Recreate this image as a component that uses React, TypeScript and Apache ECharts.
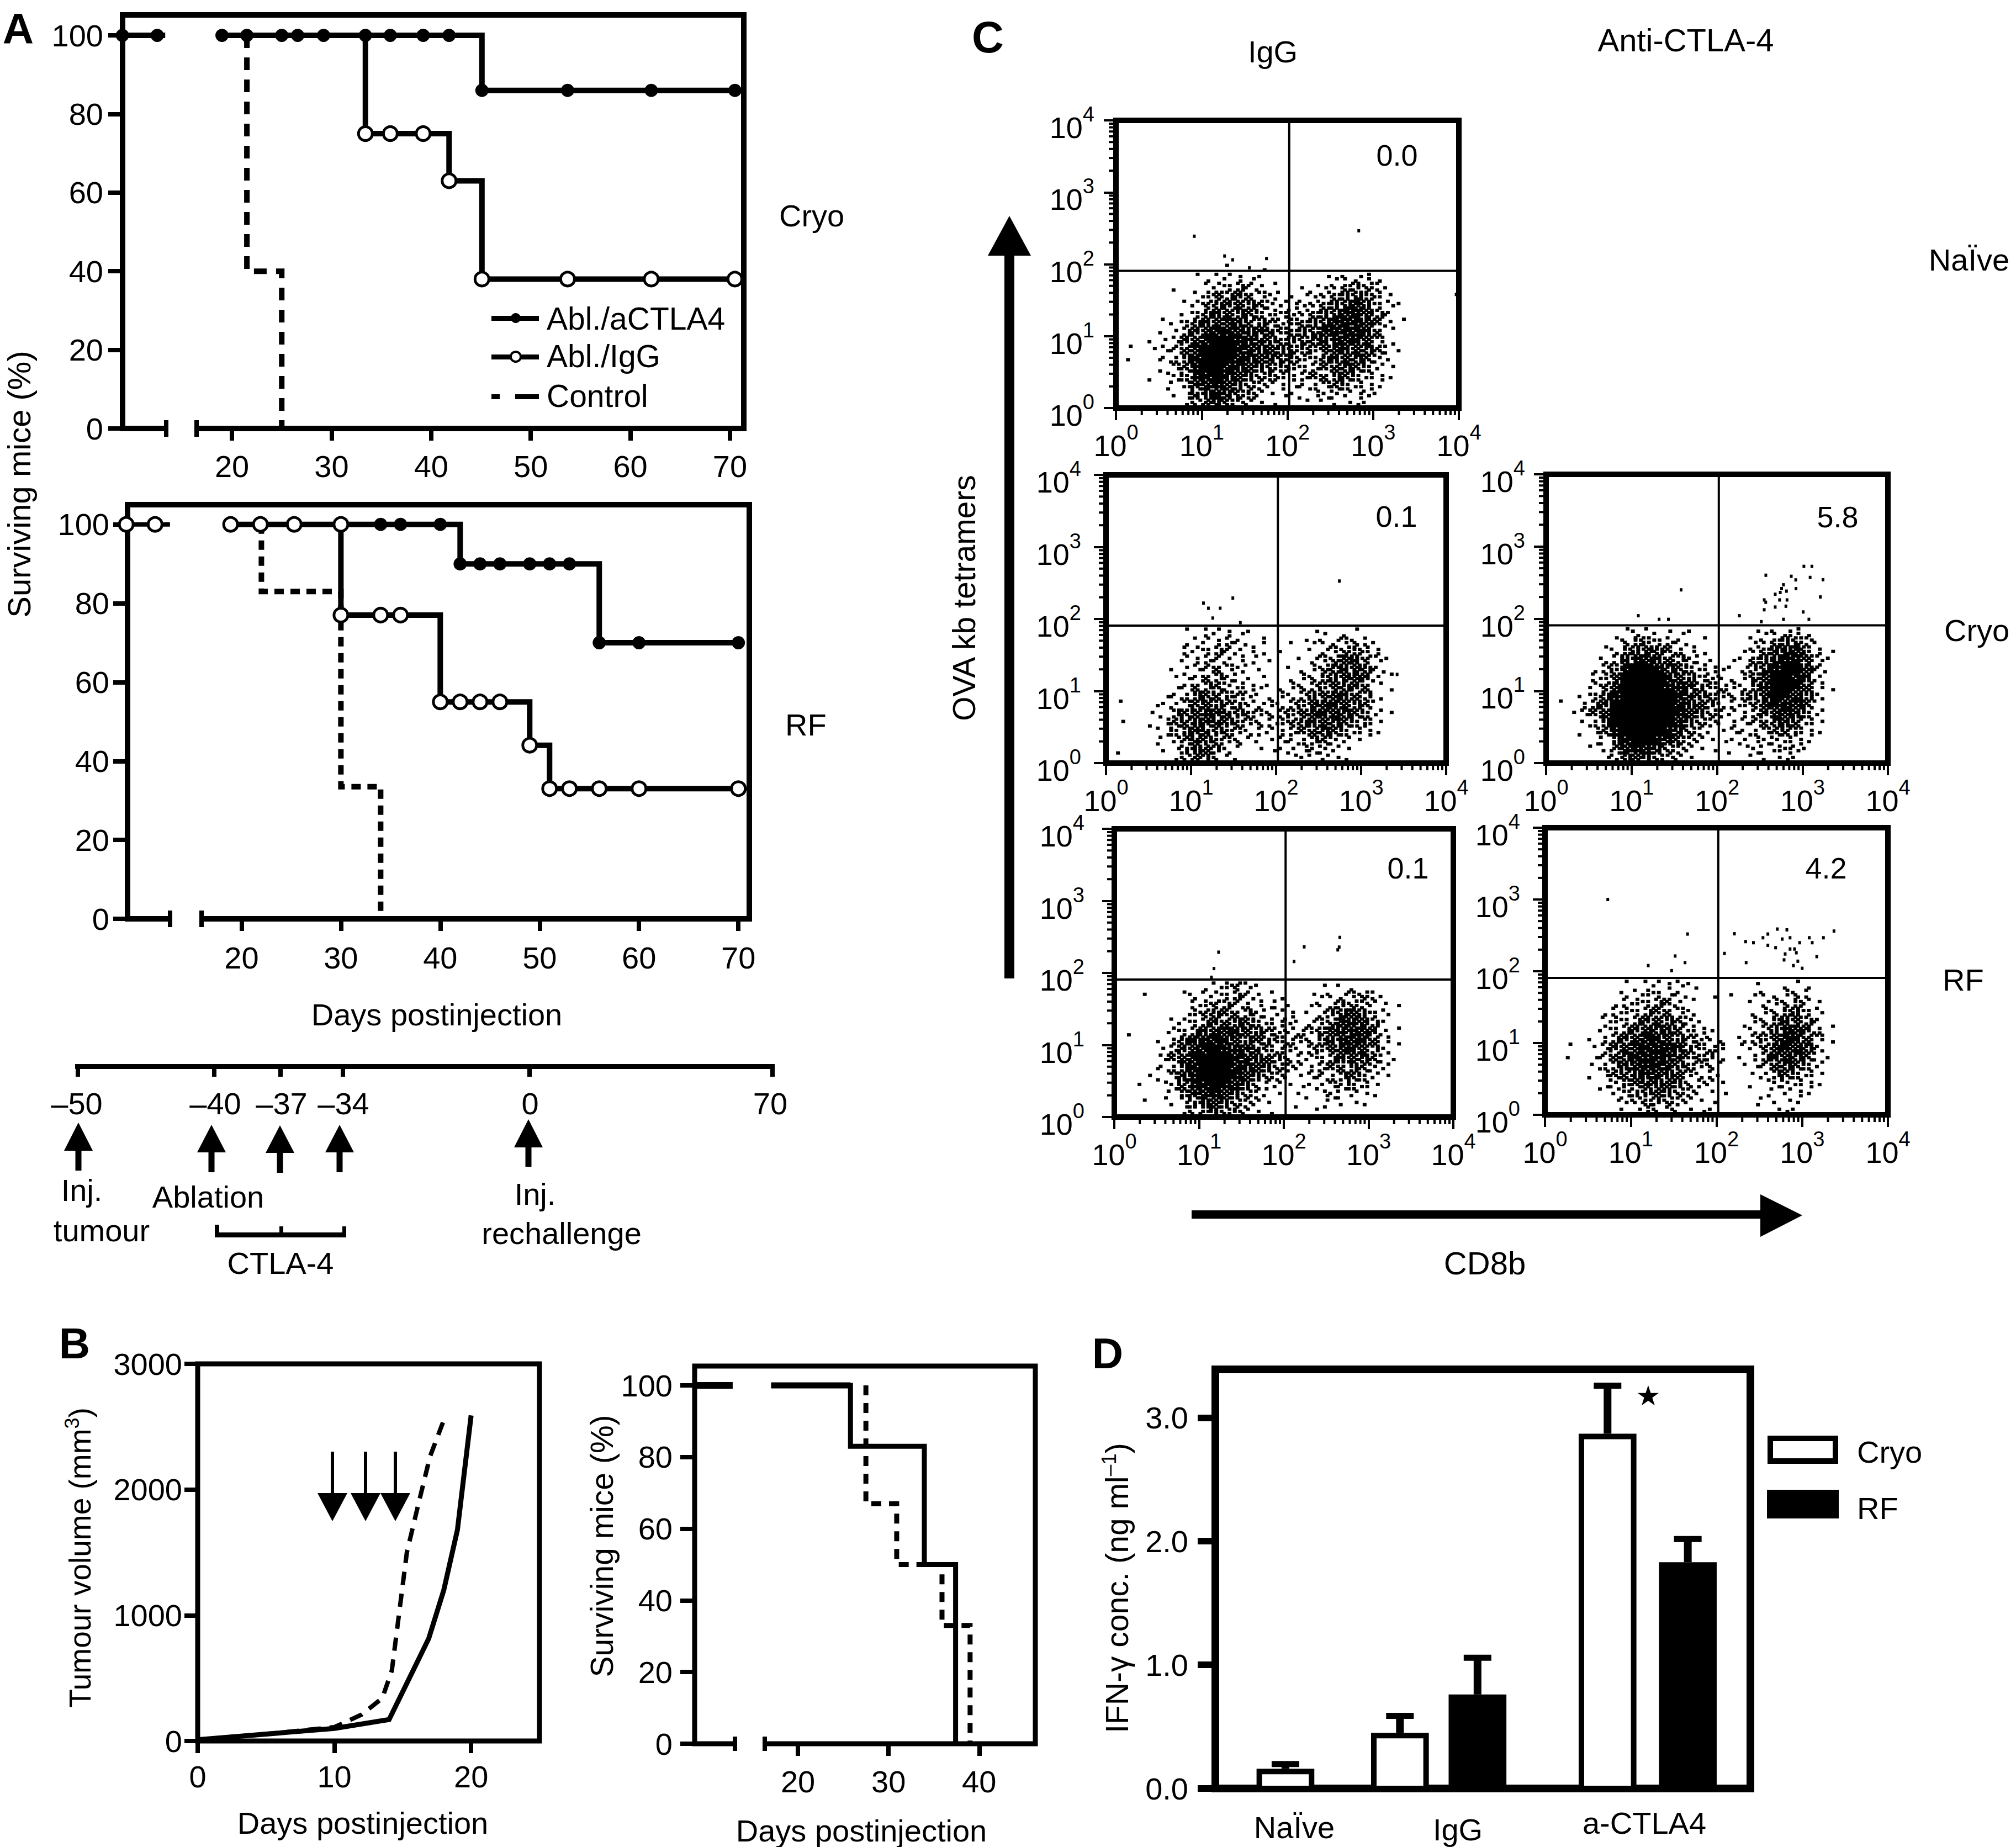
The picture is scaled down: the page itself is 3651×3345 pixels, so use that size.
import React, { useEffect, useRef } from "react";
import * as echarts from "echarts";

const FONT = '"Liberation Sans", Arial, Helvetica, sans-serif';
const W = 3651;
const H = 3345;

// ---------- Panel A, cryo ----------
const cryoTreatedEarly = [[9, 100], [13.3, 100]];
const cryoTreatedSteps = [[19, 100], [45.1, 86], [70.5, 86]];
const cryoTreatedMarks = [[9, 100], [12.5, 100], [19, 100], [21.5, 100], [25, 100], [26.6, 100], [29.2, 100], [33.4, 100], [35.9, 100], [39.2, 100], [41.8, 100], [45.1, 86], [53.7, 86], [62.1, 86], [70.5, 86]];
const cryoIgGSteps = [[33.4, 100], [33.4, 75], [41.8, 63], [45.1, 38], [70.5, 38]];
const cryoIgGMarks = [[33.4, 75], [35.9, 75], [39.2, 75], [41.8, 63], [45.1, 38], [53.7, 38], [62.1, 38], [70.5, 38]];
const cryoControlSteps = [[21.5, 100], [21.5, 40], [25, 0]];

// ---------- Panel A, RF ----------
const rfTreatedSteps = [[30, 100], [42, 90], [56, 70], [70, 70]];
const rfTreatedMarks = [[34, 100], [36, 100], [40, 100], [42, 90], [44, 90], [46, 90], [49, 90], [51, 90], [53, 90], [56, 70], [60, 70], [70, 70]];
const rfIgGEarly = [[8.4, 100], [12.8, 100]];
const rfIgGSteps = [[18.9, 100], [30, 100], [30, 77], [40, 55], [49, 44], [51, 33], [70, 33]];
const rfIgGMarks = [[8.4, 100], [11.3, 100], [18.9, 100], [21.9, 100], [25.3, 100], [30, 100], [30, 77], [34, 77], [36, 77], [40, 55], [42, 55], [44, 55], [46, 55], [49, 44], [51, 33], [53, 33], [56, 33], [60, 33], [70, 33]];
const rfControlSteps = [[22, 100], [22, 83], [30, 33.5], [34, 0]];

const survivalXTicks = [20, 30, 40, 50, 60, 70];
const survivalYTicks = [0, 20, 40, 60, 80, 100];

// ---------- Panel B ----------
const tumourSolid = [[0, 10], [5, 55], [10, 100], [14, 170], [16.9, 815], [18, 1200], [19, 1680], [20, 2590]];
const tumourDashed = [[0, 10], [5, 55], [10, 110], [12, 210], [13.5, 340], [14.2, 560], [15.3, 1500], [16.2, 1910], [17, 2265], [18.1, 2580]];
const bSurvEarly = [[8.6, 100], [12.8, 100]];
const bSurvPlateau = [[17.05, 100], [25.8, 100]];
const bSurvSolid = [[17.05, 100], [25.8, 83], [33.95, 50], [37.4, 0]];
const bSurvDashed = [[27.5, 100], [27.5, 67], [30.9, 50], [35.9, 33], [39, 0]];

// ---------- Panel D ----------
const dCategories = ["NaÏve", "IgG", "a-CTLA4"];
const dPositions = [13.1, 34.5, 49, 73.3, 88.3];
const dMeans = [0.16, 0.45, 0.76, 2.87, 1.83];
const dErrTops = [0.2, 0.59, 1.06, 3.26, 2.02];
const dIsRF = [0, 0, 1, 0, 1];

// ---------- Panel C: dot density per cell.
// Each row is 1/8 decade high, each column 1/8 decade wide; first string = highest row.
const flowNaiveIgG = [
  "0000000000100100000000000000",
  "0000000111221100000112221000",
  "0000010012343210011124442100",
  "0000000135454321112345643100",
  "0000001245565432223456753210",
  "0000001356655433334567864200",
  "0000113566765543445678864210",
  "0000114578876654455788864100",
  "0001125689987654455677763100",
  "0101235799987665544566664210",
  "0100235899987665433566653100",
  "0000134899876554333456542100",
  "0001124789765443234455432100",
  "0000113678654322123344321000",
  "0000012568654211112232221000",
  "0000001356532110011112110000",
];
const flowCryoIgG = [
  "0000000102221100000110110000",
  "0000000112232120011122332100",
  "0000000223432210100123443200",
  "0000000223322111001234664210",
  "0000001123432110011245665210",
  "0000001224432110012345665210",
  "0000001244433211123345554110",
  "0000012355544211223556654100",
  "0100112356544322234667654100",
  "0000114567655433345677654210",
  "0100124566654332345666544100",
  "0000114565543222234565432100",
  "0000112465433111223443210000",
  "0100011465421011122332100000",
  "0000001354321000012222100000",
];
const flowCryoAnti = [
  "0000000121111100000112321000",
  "0000001344332110000224553100",
  "0000012456543210001346774210",
  "0000022677654321011457885210",
  "0000134899865432112468996310",
  "0000235999976533212569986200",
  "0000246999987644322479985210",
  "0001358999998654334569875200",
  "0102459999998654223468875100",
  "0012469999998654222357764200",
  "0001359999997543122346653100",
  "0001248999986421122334542100",
  "0000125899875321112223321000",
  "0000114787643211011223321000",
  "0000012565432100001112110000",
];
const flowRfIgG = [
  "0000000011342100000101100000",
  "0010001212343211001122342100",
  "0000000234433212101234432110",
  "0000000345444322201246653200",
  "0000012345555432212347764100",
  "0100023467776543333567775210",
  "0000125788765544333467775210",
  "0000135789876543323456764200",
  "0000246899987654322346664210",
  "0000235899987654322344543200",
  "0001136899986543112334542100",
  "0010125789875322111233431000",
  "0000114678654211011132211000",
  "0010012466543210010111110000",
  "0000001245442110000100000000",
];
const flowRfAnti = [
  "0000000101222110000100111000",
  "0000000213312101010121232000",
  "0000001233442100000122342100",
  "0000012334443200000123453200",
  "0000013345654310000234654200",
  "0000023457665321001235775310",
  "0000124568765432102345875310",
  "0010125678887443201246876300",
  "0010135688876444101247765210",
  "0000134678875433101135654200",
  "0000124567765322100124543100",
  "0000013456655332100112332100",
  "0000012345554311100011221000",
  "0000001234443211000111110000",
  "0000000122331111000001110000",
];

// Isolated events above the gate, read one by one.
const outliersNaiveIgG = [[8.2, 245], [680, 292], [18.5, 130], [23, 115], [57, 120], [36, 89], [9300, 38]];
const outliersCryoIgG = [[555, 336], [31, 195], [14, 166], [22, 141], [16, 141], [18, 103], [38, 89], [2650, 17]];
const outliersCryoAnti = [[38, 251], [12, 110], [21, 98], [27, 98], [183, 110], [1040, 531], [1290, 531], [373, 400], [740, 387], [835, 345], [1230, 373], [1740, 347], [600, 295], [570, 261], [650, 241], [840, 261], [550, 231], [480, 218], [1620, 200], [357, 182], [372, 169], [540, 182], [660, 182], [480, 145], [640, 149], [357, 133], [1020, 124], [600, 98], [1190, 98], [330, 91]];
const outliersRfIgG = [[17, 194], [15, 115], [14, 87], [174, 230], [132, 144], [458, 311], [450, 228], [433, 209]];
const outliersRfAnti = [[5.4, 1000], [46, 330], [33, 163], [43, 132], [16, 120], [30, 102], [124, 177], [162, 333], [222, 132], [219, 259], [270, 250], [349, 293], [398, 330], [513, 387], [663, 378], [722, 293], [585, 281], [1210, 293], [1310, 250], [1770, 293], [2350, 363], [398, 230], [490, 213], [722, 204], [815, 204], [855, 181], [633, 174], [935, 250], [1480, 160], [615, 144], [890, 138], [790, 120], [1000, 110]];

const gateX = 105;
const gateY = 81;
const flowNumbers = ["0.0", "0.1", "5.8", "0.1", "4.2"];

// ---------- Layout ----------
const flowRects = [
  { l: 2021, r: 2642, t: 218, b: 739, ym: 39 },
  { l: 2003, r: 2619, t: 860, b: 1382, ym: 45 },
  { l: 2800, r: 3419, t: 859, b: 1382, ym: 38 },
  { l: 2018, r: 2632, t: 1501, b: 2023, ym: 54 },
  { l: 2798, r: 3419, t: 1499, b: 2019, ym: 45 },
];
const flowNumberPos = [[2530, 281], [2529, 935], [3328, 936], [2550, 1572], [3307, 1572]];

const BLACK = "#000";
const CELL = 0.125;
const slotOrder = [0, 10, 2, 8, 5, 15, 7, 13, 1, 11, 3, 9, 4, 14, 6, 12];

function cloudDots(rows: string[]) {
  const out: number[][] = [];
  rows.forEach((row, i) => {
    const r = rows.length - 1 - i;
    for (let c = 0; c < row.length; c++) {
      const d = +row[c];
      const n = d === 0 ? 0 : Math.max(1, Math.round((d ** 1.5 * 16) / 27));
      const start = (c * 5 + r * 11) % 16;
      for (let k = 0; k < n; k++) {
        const slot = slotOrder[(start + k) % 16];
        const sx = slot % 4;
        const sy = slot >> 2;
        out.push([10 ** ((c + (sx + 0.5) / 4) * CELL), 10 ** ((r + (sy + 0.5) / 4) * CELL)]);
      }
    }
  });
  return out;
}

function buildOption() {
  const grid: any[] = [];
  const xAxis: any[] = [];
  const yAxis: any[] = [];
  const series: any[] = [];

  const addGrid = (l: number, r: number, t: number, b: number, bw: number) => {
    grid.push({ left: l, top: t, width: r - l, height: b - t, show: true, borderColor: BLACK, borderWidth: bw, backgroundColor: "transparent" });
    return grid.length - 1;
  };

  const valueAxes = (g: number, o: { xmin: number; xmax: number; ymin: number; ymax: number; xt: number[]; yt: number[]; xm: number; ym: number; yfmt?: any; tickW?: number; ylen?: number; }) => {
    const tw = o.tickW ?? 8;
    xAxis.push({
      gridIndex: g, type: "value", min: o.xmin, max: o.xmax, splitLine: { show: false }, axisLine: { show: false },
      axisTick: { show: o.xt.length > 0, length: 22, customValues: o.xt, lineStyle: { color: BLACK, width: tw } },
      axisLabel: { show: o.xt.length > 0, customValues: o.xt, margin: o.xm, fontSize: 56, fontFamily: FONT, color: BLACK, formatter: (v: number) => String(v) },
    });
    yAxis.push({
      gridIndex: g, type: "value", min: o.ymin, max: o.ymax, splitLine: { show: false }, axisLine: { show: false },
      axisTick: { show: true, length: o.ylen ?? 26, customValues: o.yt, lineStyle: { color: BLACK, width: tw } },
      axisLabel: { customValues: o.yt, margin: o.ym, fontSize: 56, fontFamily: FONT, color: BLACK, formatter: o.yfmt ?? ((v: number) => String(v)) },
    });
  };

  const stepLine = (g: number, data: number[][], width: number, dash?: number[], step: any = "end") => {
    series.push({
      type: "line", xAxisIndex: g, yAxisIndex: g, data, step, symbol: "none", showSymbol: false, clip: false, silent: true, z: 2,
      lineStyle: { color: BLACK, width, type: dash ?? "solid", cap: "butt", join: "miter" },
    });
  };
  const marks = (g: number, data: number[][], open: boolean) => {
    series.push({
      type: "scatter", xAxisIndex: g, yAxisIndex: g, data, symbol: "circle", symbolSize: open ? 25 : 24, clip: false, silent: true, z: 3,
      itemStyle: open ? { color: "#fff", borderColor: BLACK, borderWidth: 5, opacity: 1 } : { color: BLACK, opacity: 1 },
    });
  };

  // A, cryo
  let g = addGrid(222, 1347, 27, 776, 10);
  valueAxes(g, { xmin: 9.02, xmax: 71.39, ymin: 0, ymax: 105.2, xt: survivalXTicks, yt: survivalYTicks, xm: 40, ym: 35 });
  stepLine(g, cryoControlSteps, 10, [23, 17]);
  stepLine(g, cryoTreatedEarly, 10);
  stepLine(g, cryoTreatedSteps, 10);
  stepLine(g, cryoIgGSteps, 10);
  marks(g, cryoTreatedMarks, false);
  marks(g, cryoIgGMarks, true);

  // A, RF
  g = addGrid(231, 1357, 914, 1664, 10);
  valueAxes(g, { xmin: 8.53, xmax: 71.1, ymin: 0, ymax: 105, xt: survivalXTicks, yt: survivalYTicks, xm: 42, ym: 33 });
  stepLine(g, rfControlSteps, 10, [17, 12]);
  stepLine(g, rfIgGEarly, 8);
  stepLine(g, rfIgGSteps, 10);
  stepLine(g, rfTreatedSteps, 10);
  marks(g, rfTreatedMarks, false);
  marks(g, rfIgGMarks, true);

  // B, tumour volume
  g = addGrid(358, 977, 2470, 3153, 9);
  valueAxes(g, { xmin: 0, xmax: 25, ymin: 0, ymax: 3000, xt: [0, 10, 20], yt: [0, 1000, 2000, 3000], xm: 36, ym: 28, ylen: 24 });
  stepLine(g, tumourDashed, 8, [24, 16], false);
  stepLine(g, tumourSolid, 9, undefined, false);

  // B, survival
  g = addGrid(1258, 1875, 2474, 3158, 9);
  valueAxes(g, { xmin: 8.6, xmax: 46.2, ymin: 0, ymax: 105.4, xt: [20, 30, 40], yt: survivalYTicks, xm: 40, ym: 40 });
  stepLine(g, bSurvDashed, 9, [18, 14]);
  stepLine(g, bSurvEarly, 12);
  stepLine(g, bSurvPlateau, 11);
  stepLine(g, bSurvSolid, 9);

  // D
  g = addGrid(2201, 3170, 2480, 3239, 14);
  valueAxes(g, { xmin: 0, xmax: 100, ymin: 0, ymax: 3.39, xt: [], yt: [0, 1, 2, 3], xm: 10, ym: 49, yfmt: (v: number) => v.toFixed(1), tickW: 12, ylen: 32 });
  series.push({
    type: "custom", xAxisIndex: g, yAxisIndex: g, silent: true, z: 3, clip: false,
    data: dPositions.map((p, i) => [p, dMeans[i], dErrTops[i], dIsRF[i]]),
    encode: { x: 0, y: 1 },
    renderItem: (_: any, api: any) => {
      const x = api.value(0);
      const base = api.coord([x, 0]);
      const top = api.coord([x, api.value(1)]);
      const err = api.coord([x, api.value(2)]);
      const half = api.coord([x + 5.4, 0])[0] - base[0];
      const filled = api.value(3) === 1;
      const inset = 5;
      return {
        type: "group",
        children: [
          { type: "rect", shape: { x: base[0] - 7, y: err[1], width: 14, height: top[1] - err[1] }, style: { fill: BLACK } },
          { type: "rect", shape: { x: base[0] - 25, y: err[1] - 5, width: 50, height: 11 }, style: { fill: BLACK } },
          filled
            ? { type: "rect", shape: { x: base[0] - half, y: top[1], width: half * 2, height: base[1] - top[1] }, style: { fill: BLACK } }
            : { type: "rect", shape: { x: base[0] - half + inset, y: top[1] + inset, width: half * 2 - 2 * inset, height: base[1] - top[1] - inset }, style: { fill: "#fff", stroke: BLACK, lineWidth: 10 } },
        ],
      };
    },
  });

  // C
  const clouds = [flowNaiveIgG, flowCryoIgG, flowCryoAnti, flowRfIgG, flowRfAnti];
  const outliers = [outliersNaiveIgG, outliersCryoIgG, outliersCryoAnti, outliersRfIgG, outliersRfAnti];
  const logLabel = {
    fontFamily: FONT, color: BLACK,
    formatter: (v: number) => `{m|10}{e|${Math.round(Math.log10(v))}}`,
    rich: {
      m: { fontSize: 54, fontFamily: FONT, color: BLACK, verticalAlign: "bottom", lineHeight: 70 },
      e: { fontSize: 38, fontFamily: FONT, color: BLACK, verticalAlign: "top", lineHeight: 70 },
    },
  };
  const minorData: number[][] = [];
  for (let dec = 0; dec < 4; dec++) {
    for (let m = 2; m <= 9; m++) {
      const v = m * 10 ** dec;
      minorData.push([v, 1, 0]);
      minorData.push([1, v, 1]);
    }
  }
  flowRects.forEach((rc, i) => {
    const fg = addGrid(rc.l, rc.r, rc.t, rc.b, 10);
    const axisBase = { gridIndex: fg, type: "log", logBase: 10, min: 1, max: 10000, splitLine: { show: false }, axisLine: { show: false }, minorTick: { show: false } };
    xAxis.push({ ...axisBase, axisTick: { show: true, length: 22, lineStyle: { color: BLACK, width: 4 } }, axisLabel: { ...logLabel, margin: 25 } });
    yAxis.push({ ...axisBase, axisTick: { show: true, length: 22, lineStyle: { color: BLACK, width: 4 } }, axisLabel: { ...logLabel, margin: rc.ym, padding: [10, 0, 0, 0] } });
    series.push({
      type: "scatter", xAxisIndex: fg, yAxisIndex: fg, data: cloudDots(clouds[i]), symbol: "rect", symbolSize: [7, 6], silent: true, z: 2,
      itemStyle: { color: BLACK, opacity: 1 },
    });
    series.push({
      type: "scatter", xAxisIndex: fg, yAxisIndex: fg, data: outliers[i], symbol: "rect", symbolSize: [5, 6], silent: true, z: 2,
      itemStyle: { color: BLACK, opacity: 1 },
    });
    const gate = (d: number[][]) => series.push({
      type: "line", xAxisIndex: fg, yAxisIndex: fg, data: d, symbol: "none", showSymbol: false, silent: true, z: 3,
      lineStyle: { color: BLACK, width: 4 },
    });
    gate([[gateX, 1], [gateX, 10000]]);
    gate([[1, gateY], [10000, gateY]]);
    series.push({
      type: "custom", xAxisIndex: fg, yAxisIndex: fg, silent: true, clip: false, z: 1, data: minorData,
      encode: { x: 0, y: 1 },
      renderItem: (_: any, api: any) => {
        const isY = api.value(2) === 1;
        const p = api.coord([api.value(0), api.value(1)]);
        return {
          type: "line",
          shape: isY ? { x1: p[0] - 13, y1: p[1], x2: p[0], y2: p[1] } : { x1: p[0], y1: p[1], x2: p[0], y2: p[1] + 13 },
          style: { stroke: BLACK, lineWidth: 4 },
        };
      },
    });
  });

  // ---------- Free-standing texts and shapes ----------
  const els: any[] = [];
  const text = (s: string, x: number, y: number, o: any = {}) => {
    els.push({
      type: "text", x, y, rotation: o.rot ? Math.PI / 2 : 0, silent: true, z: 100,
      style: { text: s, fontSize: o.size ?? 56, fontWeight: o.bold ? "bold" : "normal", fontFamily: o.family ?? FONT, fill: BLACK, textAlign: o.align ?? "center", textVerticalAlign: "middle", rich: o.rich },
    });
  };
  const box = (x: number, y: number, w: number, h: number, fill = BLACK, stroke?: string, lw?: number) => {
    els.push({ type: "rect", silent: true, z: 100, shape: { x, y, width: w, height: h }, style: { fill, stroke, lineWidth: lw } });
  };
  const poly = (pts: number[][]) => {
    els.push({ type: "polygon", silent: true, z: 100, shape: { points: pts }, style: { fill: BLACK } });
  };
  const upArrow = (x: number, tip: number, base: number, end: number, half = 26, sw = 11) => {
    poly([[x, tip], [x + half, base], [x - half, base]]);
    box(x - sw / 2, base, sw, end - base);
  };
  const downArrow = (x: number, top: number, base: number, tip: number) => {
    box(x - 3, top, 6, base - top);
    poly([[x - 27, base], [x + 27, base], [x, tip]]);
  };
  const axisBreak = (x1: number, x2: number, y: number, hw: number, thick: number) => {
    box(x1, y - thick, x2 - x1, thick * 2, "#fff");
    box(x1 - 4, y - hw, 8, hw * 2);
    box(x2 - 4, y - hw, 8, hw * 2);
  };

  // panel letters
  text("A", 33, 52, { size: 78, bold: true });
  text("B", 135, 2433, { size: 78, bold: true });
  text("C", 1789, 67, { size: 80, bold: true });
  text("D", 2006, 2451, { size: 78, bold: true });

  // panel A
  axisBreak(301, 356, 776, 15, 9);
  axisBreak(308, 365, 1664, 15, 9);
  text("Surviving mice (%)", 34, 877, { rot: true, size: 58 });
  text("Cryo", 1411, 390, { align: "left" });
  text("RF", 1422, 1312, { align: "left" });
  text("Days postinjection", 791, 1837);
  box(890, 572, 86, 9);
  els.push({ type: "circle", silent: true, z: 100, shape: { cx: 934, cy: 576, r: 9 }, style: { fill: BLACK } });
  box(890, 642, 86, 9);
  els.push({ type: "circle", silent: true, z: 100, shape: { cx: 934, cy: 646, r: 9 }, style: { fill: "#fff", stroke: BLACK, lineWidth: 4 } });
  box(890, 714, 15, 9);
  box(933, 714, 43, 9);
  text("Abl./aCTLA4", 990, 577, { align: "left", size: 57 });
  text("Abl./IgG", 990, 645, { align: "left", size: 57 });
  text("Control", 990, 717, { align: "left", size: 57 });

  // timeline
  box(136, 1927, 1267, 9);
  const timelineTicks = [141, 388, 508, 621, 959, 1399];
  timelineTicks.forEach((x) => box(x - 4, 1930, 8, 20));
  text("–50", 139, 1998);
  text("–40", 390, 1998);
  text("–37", 510, 1998);
  text("–34", 622, 1998);
  text("0", 960, 1998);
  text("70", 1395, 1998);
  upArrow(142, 2033, 2084, 2120);
  upArrow(383, 2037, 2087, 2123);
  upArrow(507, 2038, 2088, 2124);
  upArrow(615, 2037, 2087, 2123);
  upArrow(957, 2027, 2078, 2113);
  text("Inj.", 148, 2155);
  text("tumour", 184, 2228);
  text("Ablation", 377, 2167);
  text("Inj.", 969, 2162);
  text("rechallenge", 1017, 2233);
  text("CTLA-4", 508, 2287);
  box(389, 2232, 238, 9);
  box(389, 2218, 8, 20);
  box(506, 2221, 7, 16);
  box(620, 2221, 7, 16);

  // panel B
  downArrow(602, 2629, 2704, 2755);
  downArrow(662, 2629, 2704, 2755);
  downArrow(716, 2629, 2704, 2755);
  text("Tumour volume (mm{s|3})", 145, 2821, { rot: true, size: 55, rich: { s: { fontSize: 36, fontFamily: FONT, fill: BLACK, verticalAlign: "top", lineHeight: 66 } } });
  text("Days postinjection", 657, 3301);
  text("Surviving mice (%)", 1090, 2800, { rot: true, size: 57 });
  text("Days postinjection", 1560, 3315);
  axisBreak(1331, 1385, 3158, 13, 8);

  // panel C
  flowNumbers.forEach((s, i) => text(s, flowNumberPos[i][0], flowNumberPos[i][1], { size: 54 }));
  text("IgG", 2305, 93);
  text("Anti-CTLA-4", 3053, 72, { size: 58 });
  text("NaÏve", 3566, 470);
  text("Cryo", 3521, 1141, { align: "left" });
  text("RF", 3518, 1774, { align: "left" });
  text("OVA kb tetramers", 1746, 1083, { rot: true, size: 57 });
  text("CD8b", 2689, 2287, { size: 58 });
  upArrow(1828, 391, 463, 1772, 39, 18);
  box(2158, 2192, 1030, 15);
  poly([[3188, 2163], [3264, 2201], [3188, 2240]]);

  // panel D
  text("IFN-γ conc. (ng ml{s|–1})", 2023, 2876, { rot: true, size: 57, rich: { s: { fontSize: 37, fontFamily: FONT, fill: BLACK, verticalAlign: "top", lineHeight: 66 } } });
  text(dCategories[0], 2344, 3309);
  text(dCategories[1], 2640, 3313);
  text(dCategories[2], 2978, 3301);
  text("★", 2985, 2528, { size: 50, family: '"DejaVu Sans"' });
  box(3206, 2605, 118, 41, "#fff", BLACK, 10);
  box(3200, 2698, 130, 52);
  text("Cryo", 3363, 2629, { align: "left" });
  text("RF", 3363, 2731, { align: "left" });

  return {
    animation: false,
    backgroundColor: "#fff",
    textStyle: { fontFamily: FONT, color: BLACK },
    grid, xAxis, yAxis, series,
    tooltip: { show: false },
    graphic: { elements: els },
  };
}

export default function App() {
  const ref = useRef<HTMLDivElement>(null);
  useEffect(() => {
    const chart = echarts.init(ref.current!, undefined, { renderer: "svg", width: W, height: H });
    chart.setOption(buildOption() as any);
    return () => chart.dispose();
  }, []);
  return <div ref={ref} style={{ position: "absolute", left: 0, top: 0, width: W, height: H, background: "#fff" }} />;
}
